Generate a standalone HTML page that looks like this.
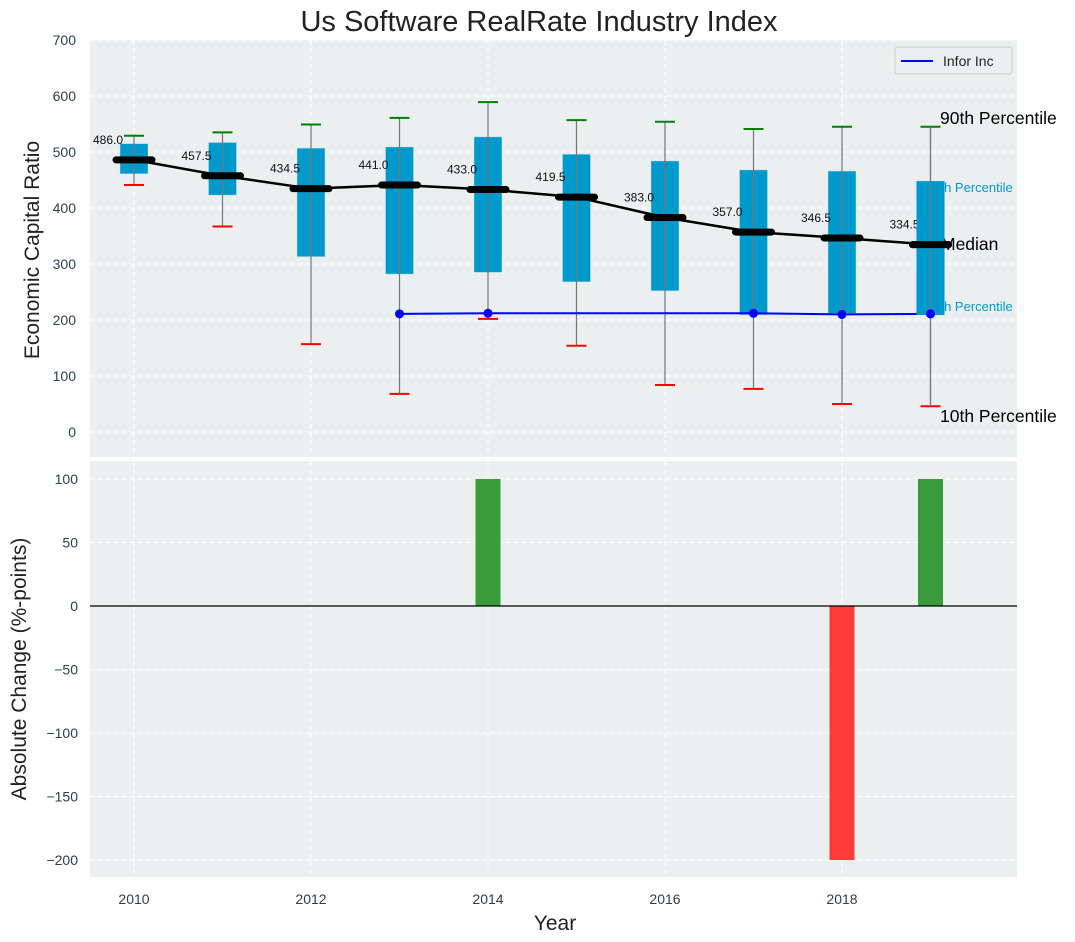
<!DOCTYPE html>
<html><head><meta charset="utf-8"><style>
body{margin:0;background:#fff;font-family:"Liberation Sans",sans-serif;}
svg{display:block}
</style></head><body>
<svg id="c" width="1075" height="942" xmlns="http://www.w3.org/2000/svg"></svg>
<script>
const years=[2010,2011,2012,2013,2014,2015,2016,2017,2018,2019];
const p90=[529,535,549,561,589,557,554,541,545,545];
const p75=[515,517,507,509,527,496,484,468,466,448];
const medians=[486.0,457.5,434.5,441.0,433.0,419.5,383.0,357.0,346.5,334.5];
const p25=[461,423,313,282,285,268,252,209,212,209];
const p10=[441,367,157,68,202,154,84,77,50,46];
const inforYears=[2013,2014,2015,2016,2017,2018,2019];
const inforVals=[211,212,212,212,212,210,211];
const inforMarkers=[true,true,false,false,true,true,true];
const changeYears=[2014,2018,2019];
const changeVals=[100,-200,100];
const topTicks=[0,100,200,300,400,500,600,700];
const botTicks=[100,50,0,-50,-100,-150,-200];
const xTicks=[2010,2012,2014,2016,2018];

const NS="http://www.w3.org/2000/svg";
const svg=document.getElementById('c');
function mk(tag,attrs,parent){const e=document.createElementNS(NS,tag);for(const k in attrs)e.setAttribute(k,attrs[k]);(parent||svg).appendChild(e);return e;}
const X=y=>134+(y-2010)*88.5;
const YT=v=>432-v*0.56;
const YB=v=>606-v*1.27;
const L=90,R=1017;

let bg1=mk('rect',{x:L,y:40,width:R-L,height:417,fill:'#ebeff0'});


let bg2=mk('rect',{x:L,y:461,width:R-L,height:416,fill:'#ebeff0'});



for(const t of topTicks){mk('line',{x1:L,x2:R,y1:YT(t),y2:YT(t),stroke:'#fff','stroke-dasharray':'5,3','stroke-width':1});}
for(const t of botTicks){mk('line',{x1:L,x2:R,y1:YB(t),y2:YB(t),stroke:'#fff','stroke-dasharray':'5,3','stroke-width':1});}
for(const t of xTicks){mk('line',{x1:X(t),x2:X(t),y1:40,y2:457,stroke:'#fff','stroke-dasharray':'5,3'});mk('line',{x1:X(t),x2:X(t),y1:461,y2:877,stroke:'#fff','stroke-dasharray':'5,3'});}

for(const t of topTicks){let e=mk('text',{x:76,y:YT(t)+5,'text-anchor':'end','font-size':14,fill:'#2d3e50'});e.textContent=t;

}
for(const t of botTicks){let e=mk('text',{x:78,y:YB(t)+5,'text-anchor':'end','font-size':14,fill:'#2d3e50'});e.textContent=(t<0?'\u2212'+(-t):t);

}
for(const t of xTicks){let e=mk('text',{x:X(t),y:904,'text-anchor':'middle','font-size':14,fill:'#2d3e50'});e.textContent=t;

}

years.forEach((yr,i)=>{
  const x=X(yr);
  let b=mk('rect',{x:x-14,y:YT(p75[i]),width:28,height:YT(p25[i])-YT(p75[i]),fill:'#0099cc',stroke:'#bfe3f0','stroke-width':0.5});
  
  
  mk('line',{x1:x,x2:x,y1:YT(p90[i]),y2:YT(p10[i]),stroke:'#777','stroke-width':1.2});
  let g=mk('line',{x1:x-10,x2:x+10,y1:YT(p90[i]),y2:YT(p90[i]),stroke:'green','stroke-width':2});
  
  
  let r=mk('line',{x1:x-10,x2:x+10,y1:YT(p10[i]),y2:YT(p10[i]),stroke:'red','stroke-width':2});
  
  
});
let mp=mk('polyline',{points:years.map((y,i)=>X(y)+','+YT(medians[i])).join(' '),fill:'none',stroke:'#000','stroke-width':2.5});


years.forEach((yr,i)=>{
  let m=mk('line',{x1:X(yr)-18,x2:X(yr)+18,y1:YT(medians[i]),y2:YT(medians[i]),stroke:'#000','stroke-width':7,'stroke-linecap':'round'});
  
  
  let t=mk('text',{x:X(yr)-26,y:YT(medians[i])-16,'text-anchor':'middle','font-size':12,fill:'#111'});
  t.textContent=medians[i].toFixed(1);
  
  
});
let ip=mk('polyline',{points:inforYears.map((y,i)=>X(y)+','+YT(inforVals[i])).join(' '),fill:'none',stroke:'blue','stroke-width':2});


inforYears.forEach((y,i)=>{if(inforMarkers[i]){let c=mk('circle',{cx:X(y),cy:YT(inforVals[i]),r:4.5,fill:'blue'});

}});

const rl=[['90th Percentile',940,124,17.5,'#000'],['75th Percentile',926,192,13,'#0099cc'],['Median',941,250,17.5,'#000'],['25th Percentile',926,311,13,'#0099cc'],['10th Percentile',940,422,17.5,'#000']];
rl.forEach(a=>{let t=mk('text',{x:a[1],y:a[2],'font-size':a[3],fill:a[4]});t.textContent=a[0];

});
{const i=9,x=X(2019);mk('rect',{x:x-14,y:YT(p75[i]),width:28,height:YT(p25[i])-YT(p75[i]),fill:'#0099cc'});
mk('line',{x1:x,x2:x,y1:YT(p90[i]),y2:YT(p10[i]),stroke:'#777','stroke-width':1.2});
mk('line',{x1:x-18,x2:x+18,y1:YT(medians[i]),y2:YT(medians[i]),stroke:'#000','stroke-width':7,'stroke-linecap':'round'});
mk('circle',{cx:x,cy:YT(inforVals[6]),r:4.5,fill:'blue'});}

let lg=mk('g',{});


mk('rect',{x:895,y:47,width:117,height:27,rx:3,fill:'#ebeff0',stroke:'#ccc'},lg);
mk('line',{x1:901,x2:933,y1:61,y2:61,stroke:'blue','stroke-width':2},lg);
let lt=mk('text',{x:943,y:66,'font-size':14,fill:'#222'},lg);lt.textContent='Infor Inc';

changeYears.forEach((y,i)=>{
  const v=changeVals[i];
  let b=mk('rect',{x:X(y)-12.5,y:Math.min(YB(v),YB(0)),width:25,height:Math.abs(YB(v)-YB(0)),fill:v>=0?'#3a9b3a':'#ff3b3b'});
  
  
});
let zl=mk('line',{x1:L,x2:R,y1:YB(0),y2:YB(0),stroke:'#000','stroke-width':1.2});



let ti=mk('text',{x:539,y:31,'text-anchor':'middle','font-size':29,fill:'#222'});ti.textContent='Us Software RealRate Industry Index';


let ya=mk('text',{x:0,y:0,'text-anchor':'middle','font-size':21,fill:'#222',transform:'translate(39,250) rotate(-90)'});ya.textContent='Economic Capital Ratio';


let yb=mk('text',{x:0,y:0,'text-anchor':'middle','font-size':21,fill:'#222',transform:'translate(26,669) rotate(-90)'});yb.textContent='Absolute Change (%-points)';


let xa=mk('text',{x:555,y:930,'text-anchor':'middle','font-size':21,fill:'#222'});xa.textContent='Year';


</script>
</body></html>
